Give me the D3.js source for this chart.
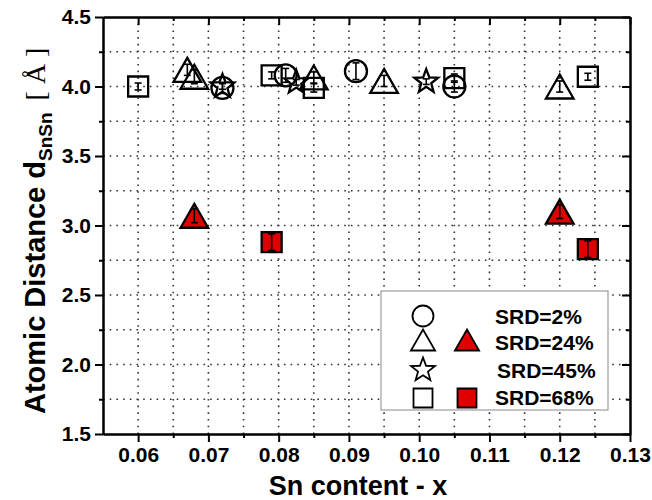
<!DOCTYPE html>
<html>
<head>
<meta charset="utf-8">
<script src="https://cdn.jsdelivr.net/npm/d3@7"></script>
<style>
  body { margin: 0; background: #fff; }
  svg { display: block; }
</style>
</head>
<body>
<svg id="chart" width="652" height="500"></svg>
<script>
// Sn–Sn atomic distance versus Sn content, grouped by SRD value

const xTicks = [0.06, 0.07, 0.08, 0.09, 0.10, 0.11, 0.12, 0.13];
const xTickLabels = ["0.06", "0.07", "0.08", "0.09", "0.10", "0.11", "0.12", "0.13"];
const yTicks = [1.5, 2.0, 2.5, 3.0, 3.5, 4.0, 4.5];
const yTickLabels = ["1.5", "2.0", "2.5", "3.0", "3.5", "4.0", "4.5"];

// SRD = 2 % (open circles)
const srd2X   = [0.072, 0.081, 0.091, 0.105];
const srd2Y   = [3.99, 4.08, 4.11, 4.00];
const srd2Err = [0.04, 0.05, 0.06, 0.04];

// SRD = 24 % (open triangles)
const srd24X   = [0.067, 0.068, 0.085, 0.095, 0.120];
const srd24Y   = [4.12, 4.07, 4.065, 4.04, 4.00];
const srd24Err = [0.04, 0.05, 0.04, 0.04, 0.04];

// SRD = 24 % (filled triangles)
const srd24bX   = [0.068, 0.120];
const srd24bY   = [3.07, 3.10];
const srd24bErr = [0.05, 0.05];

// SRD = 45 % (open stars)
const srd45X   = [0.072, 0.0825, 0.101];
const srd45Y   = [4.00, 4.03, 4.035];
const srd45Err = [0.02, 0.02, 0.02];

// SRD = 68 % (open squares)
const srd68X   = [0.060, 0.079, 0.085, 0.105, 0.124];
const srd68Y   = [4.00, 4.08, 3.99, 4.06, 4.07];
const srd68Err = [0.025, 0.025, 0.03, 0.03, 0.025];

// SRD = 68 % (filled squares)
const srd68bX   = [0.079, 0.124];
const srd68bY   = [2.88, 2.83];
const srd68bErr = [0.06, 0.06];

const legendLabels = ["SRD=2%", "SRD=24%", "SRD=45%", "SRD=68%"];

const RED = "#e00000";
const FONT = "'Liberation Sans', Arial, sans-serif";

const margin = { left: 103, right: 22, top: 17, bottom: 66 };
const W = 652, H = 500;
const innerW = W - margin.left - margin.right;
const innerH = H - margin.top - margin.bottom;

const svg = d3.select("#chart");
const g = svg.append("g").attr("transform", `translate(${margin.left},${margin.top})`);

const x = d3.scaleLinear().domain([0.055, 0.13]).range([0, innerW]);
const y = d3.scaleLinear().domain([1.5, 4.5]).range([innerH, 0]);

// dotted grid at every major and minor tick
const xGrid = d3.range(0.06, 0.1299, 0.005);
const yGrid = d3.range(1.75, 4.49, 0.25);
g.append("g").selectAll("line").data(xGrid).join("line")
  .attr("x1", d => x(d)).attr("x2", d => x(d))
  .attr("y1", 0).attr("y2", innerH)
  .attr("stroke", "#333").attr("stroke-width", 1.6)
  .attr("stroke-dasharray", "1.6,5.1");
g.append("g").selectAll("line").data(yGrid).join("line")
  .attr("y1", d => y(d)).attr("y2", d => y(d))
  .attr("x1", 0).attr("x2", innerW)
  .attr("stroke", "#333").attr("stroke-width", 1.6)
  .attr("stroke-dasharray", "1.6,5.1");

// axes
const xMinor = d3.range(0.065, 0.13, 0.01);
const yMinor = d3.range(1.75, 4.5, 0.5);

function styleAxis(sel) {
  sel.select(".domain").attr("stroke", "#000").attr("stroke-width", 2);
  sel.selectAll(".tick line").attr("stroke", "#000").attr("stroke-width", 2);
  sel.selectAll(".tick text")
    .attr("font-family", FONT).attr("font-weight", "bold")
    .attr("font-size", 21).attr("fill", "#000");
}

const xAxis = g.append("g").attr("transform", `translate(0,${innerH})`)
  .call(d3.axisBottom(x).tickValues(xTicks).tickSize(8).tickPadding(5)
    .tickFormat((d, i) => xTickLabels[i]).tickSizeOuter(0));
styleAxis(xAxis);
g.append("g").attr("transform", `translate(0,${innerH})`)
  .call(d3.axisBottom(x).tickValues(xMinor).tickSize(4).tickFormat("").tickSizeOuter(0))
  .call(styleAxis);

const yAxis = g.append("g")
  .call(d3.axisLeft(y).tickValues(yTicks).tickSize(8).tickPadding(4)
    .tickFormat((d, i) => yTickLabels[i]).tickSizeOuter(0));
styleAxis(yAxis);
g.append("g")
  .call(d3.axisLeft(y).tickValues(yMinor).tickSize(4).tickFormat("").tickSizeOuter(0))
  .call(styleAxis);

// mirrored top and right axes with inward ticks
g.append("g").call(d3.axisTop(x).tickValues(xTicks).tickSize(-8).tickFormat("").tickSizeOuter(0)).call(styleAxis);
g.append("g").call(d3.axisTop(x).tickValues(xMinor).tickSize(-4).tickFormat("").tickSizeOuter(0)).call(styleAxis);
g.append("g").attr("transform", `translate(${innerW},0)`)
  .call(d3.axisRight(y).tickValues(yTicks).tickSize(-8).tickFormat("").tickSizeOuter(0)).call(styleAxis);
g.append("g").attr("transform", `translate(${innerW},0)`)
  .call(d3.axisRight(y).tickValues(yMinor).tickSize(-4).tickFormat("").tickSizeOuter(0)).call(styleAxis);

// axis titles
svg.append("text")
  .attr("x", 358).attr("y", 495)
  .attr("text-anchor", "middle")
  .attr("font-family", FONT).attr("font-weight", "bold").attr("font-size", 27)
  .text("Sn content - x");

const yTitle = svg.append("text")
  .attr("transform", "rotate(-90)")
  .attr("x", -414).attr("y", 45)
  .attr("text-anchor", "start")
  .attr("font-family", FONT).attr("font-weight", "bold").attr("font-size", 29);
yTitle.append("tspan").text("Atomic Distance d");
yTitle.append("tspan").attr("font-size", 19).attr("dy", 7).text("SnSn");
yTitle.append("tspan").attr("dy", -7).attr("dx", 12)
  .attr("font-family", "'Liberation Serif', 'Times New Roman', serif")
  .attr("font-weight", "normal").attr("font-size", 28)
  .attr("xml:space", "preserve").text("[ Å ]");

// marker shapes
const shapes = {
  circle: (s) => { const r = s / 2; return `M${r},0A${r},${r} 0 1,1 ${-r},0A${r},${r} 0 1,1 ${r},0Z`; },
  triangle: (s) => { const w = s * 1.15, h = s; return `M0,${-h / 2}L${w / 2},${h / 2}L${-w / 2},${h / 2}Z`; },
  square: (s) => { const a = s / 2; return `M${-a},${-a}H${a}V${a}H${-a}Z`; },
  star: (s) => {
    const ro = s / 2, ri = ro * 0.42;
    const pts = d3.range(10).map(k => {
      const r = k % 2 ? ri : ro, a = -Math.PI / 2 + k * Math.PI / 5;
      return [r * Math.cos(a), r * Math.sin(a)];
    });
    return "M" + pts.map(p => p.join(",")).join("L") + "Z";
  }
};

function series(xs, ys, errs, shape, size, fill) {
  return xs.map((v, i) => ({ x: v, y: ys[i], e: errs[i], shape, size, fill }));
}

const points = [
  ...series(srd68X, srd68Y, srd68Err, "square", 20, "none"),
  ...series(srd24X, srd24Y, srd24Err, "triangle", 24, "none"),
  ...series(srd2X, srd2Y, srd2Err, "circle", 22, "none"),
  ...series(srd45X, srd45Y, srd45Err, "star", 25, "none"),
  ...series(srd24bX, srd24bY, srd24bErr, "triangle", 24, RED),
  ...series(srd68bX, srd68bY, srd68bErr, "square", 20, RED)
];

const pg = g.append("g").selectAll("g").data(points).join("g")
  .attr("transform", d => `translate(${x(d.x)},${y(d.y)})`);
pg.append("path")
  .attr("d", d => shapes[d.shape](d.size))
  .attr("fill", d => d.fill)
  .attr("stroke", "#000").attr("stroke-width", 2.3).attr("stroke-linejoin", "miter");

// error bars
const eb = g.append("g").selectAll("g").data(points).join("g")
  .attr("stroke", "#000").attr("stroke-width", 1.6);
eb.append("line")
  .attr("x1", d => x(d.x)).attr("x2", d => x(d.x))
  .attr("y1", d => y(d.y - d.e)).attr("y2", d => y(d.y + d.e));
eb.append("line")
  .attr("x1", d => x(d.x) - 3.5).attr("x2", d => x(d.x) + 3.5)
  .attr("y1", d => y(d.y - d.e)).attr("y2", d => y(d.y - d.e));
eb.append("line")
  .attr("x1", d => x(d.x) - 3.5).attr("x2", d => x(d.x) + 3.5)
  .attr("y1", d => y(d.y + d.e)).attr("y2", d => y(d.y + d.e));

// legend
const lg = svg.append("g");
lg.append("rect")
  .attr("x", 381).attr("y", 291).attr("width", 227).attr("height", 119)
  .attr("fill", "#fff").attr("stroke", "#888").attr("stroke-width", 1);

const legendMarks = [
  { shape: "circle", size: 21, fill: "#fff", cx: 423, cy: 316 },
  { shape: "triangle", size: 21, fill: "#fff", cx: 423, cy: 340 },
  { shape: "triangle", size: 21, fill: RED, cx: 467, cy: 340 },
  { shape: "star", size: 25, fill: "#fff", cx: 423, cy: 370 },
  { shape: "square", size: 19, fill: "#fff", cx: 423, cy: 398 },
  { shape: "square", size: 19, fill: RED, cx: 467, cy: 398 }
];
lg.selectAll("path").data(legendMarks).join("path")
  .attr("transform", d => `translate(${d.cx},${d.cy})`)
  .attr("d", d => shapes[d.shape](d.size))
  .attr("fill", d => d.fill)
  .attr("stroke", "#000").attr("stroke-width", 1.8);

const legendText = [
  { x: 495, y: 324 }, { x: 495, y: 350 }, { x: 497, y: 378 }, { x: 495, y: 405 }
];
lg.selectAll("text").data(legendLabels).join("text")
  .attr("x", (d, i) => legendText[i].x).attr("y", (d, i) => legendText[i].y)
  .attr("font-family", FONT).attr("font-weight", "bold").attr("font-size", 21)
  .text(d => d);
</script>
</body>
</html>
